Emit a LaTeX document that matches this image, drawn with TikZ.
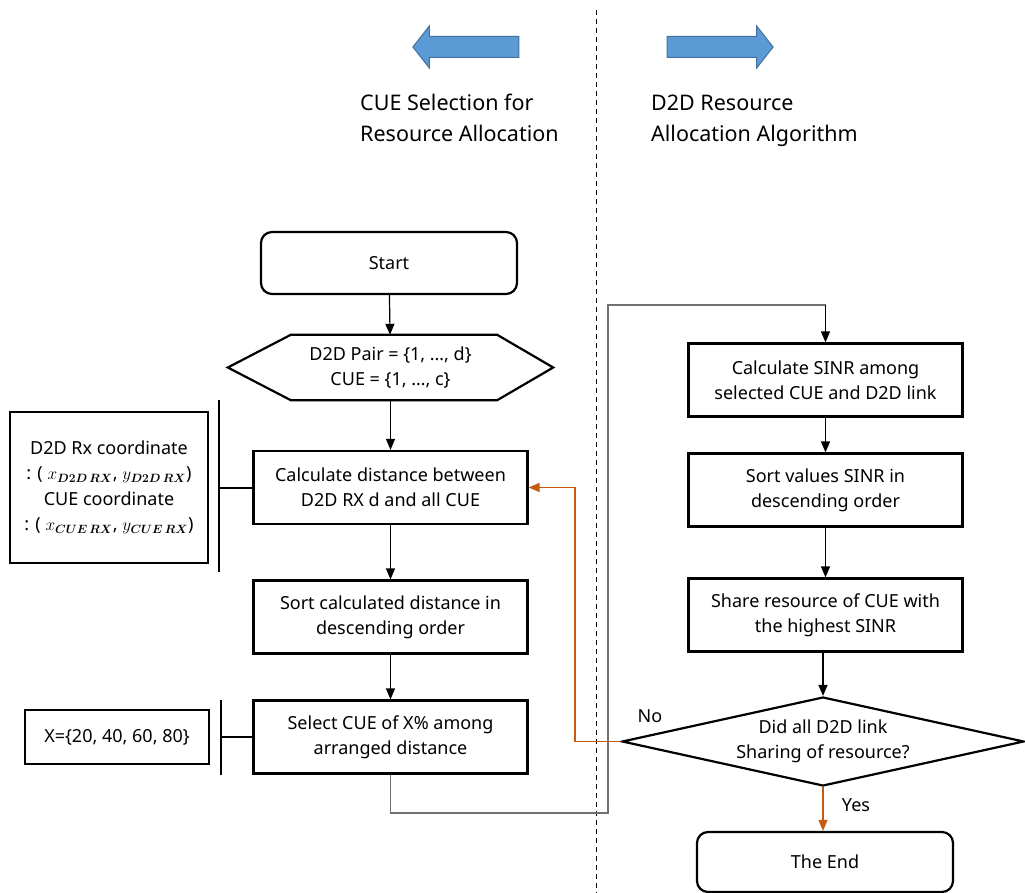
\documentclass[tikz,border=0pt]{standalone}
\usepackage{fontspec}
\setmainfont{Noto Sans}
\usepackage{amsmath}
\usetikzlibrary{arrows.meta,shapes.geometric,shapes.arrows}
\begin{document}
\begin{tikzpicture}[x=1pt,y=-1pt,
        box/.style={draw, line width=2.2pt, minimum width=274pt, minimum height=73pt, align=center, inner sep=2pt, font=\fontsize{18}{25}\selectfont},
        term/.style={draw, line width=2.2pt, rounded corners=11pt, minimum width=256pt, minimum height=62pt, align=center, font=\fontsize{18}{25}\selectfont},
        note/.style={draw, line width=2.2pt, align=center, inner sep=0pt, font=\fontsize{18}{25.5}\selectfont},
        con/.style={line width=1.2pt, -{Triangle[width=9pt,length=11pt]}},
        bigarrow/.style={single arrow, draw=myblueline, fill=myblue, line width=1pt, inner xsep=0pt, inner ysep=10pt, minimum height=106pt, single arrow head extend=10.5pt, single arrow tip angle=104},
        heading/.style={anchor=west, align=left, inner sep=0pt, font=\fontsize{21.5}{31}\selectfont}]
        \definecolor{myblue}{RGB}{91,155,213}
        \definecolor{myblueline}{RGB}{65,113,156}
        \definecolor{myorange}{RGB}{197,90,17}
        \definecolor{mygray}{RGB}{112,112,112}
        \useasboundingbox (0,0) rectangle (1025,893);
        \draw[line width=1pt, dash pattern=on 5pt off 4pt] (596,10) -- (596,893);
        \node[bigarrow, shape border rotate=180] (leftarrow) at (470,47) {};
        \node[bigarrow] (rightarrow) at (716,47) {};
        \node[heading] (lefthead) at (360,120) {\strut CUE Selection for\\\strut Resource Allocation};
        \node[heading] (righthead) at (651,120) {\strut D2D Resource\\\strut Allocation Algorithm};
        \node[term] (start) at (389,263) {Start};
        \node[minimum width=325pt, minimum height=65pt, align=center, inner sep=0pt, font=\fontsize{18}{25}\selectfont] (init) at (390.5,367.5) {D2D Pair = \{1, …, d\}\\CUE = \{1, …, c\}};
        \draw[line width=2.2pt, line join=miter] (init.west) -- ([xshift=63pt]init.north west) -- ([xshift=-56pt]init.north east) -- (init.east) -- ([xshift=-56pt]init.south east) -- ([xshift=63pt]init.south west) -- cycle;
        \node[box] (calcdist) at (390.5,487.5) {Calculate distance between\\D2D RX d and all CUE};
        \node[box] (sortdist) at (390.5,617) {Sort calculated distance in\\descending order};
        \node[box] (select) at (390.5,737) {Select CUE of X\% among\\arranged distance};
        \node[note, minimum width=198pt, minimum height=151pt] (coords) at (109,487.5) {D2D Rx coordinate\\: ( $x_{\boldsymbol{D2D\,RX}}$, $y_{\boldsymbol{D2D\,RX}}$)\\CUE coordinate\\: ( $x_{\boldsymbol{CUE\,RX}}$, $y_{\boldsymbol{CUE\,RX}}$)};
        \node[note, minimum width=184pt, minimum height=54pt] (xset) at (117,737) {X=\{20, 40, 60, 80\}};
        \node[box] (sinr) at (825.5,380) {Calculate SINR among\\selected CUE and D2D link};
        \node[box] (sortsinr) at (825.5,490) {Sort values SINR in\\descending order};
        \node[box] (share) at (825.5,615) {Share resource of CUE with\\the highest SINR};
        \node[diamond, draw, line width=2.2pt, aspect=4.5, inner sep=0pt, minimum width=402pt, minimum height=89pt, align=center, font=\fontsize{18}{25}\selectfont] (decide) at (823,741.5) {Did all D2D link\\Sharing of resource?};
        \node[term, minimum height=60pt] (theend) at (825,862) {The End};
        \node[font=\fontsize{18}{25}\selectfont] (nolabel) at (650,716) {No};
        \node[font=\fontsize{18}{25}\selectfont] (yeslabel) at (856,805) {Yes};
        \coordinate (bartop) at (219,400);
        \coordinate (barbot) at (219,572);
        \coordinate (bar2top) at (221,700);
        \coordinate (bar2bot) at (221,775);
        \coordinate (loopbot) at (608,813);
        \coordinate (looptop) at (608,305);
        \coordinate (nobend) at (575,741.5);
        \draw[line width=2pt] (bartop) -- (barbot);
        \draw[line width=2pt] (calcdist.west) -- (calcdist.west -| bartop);
        \draw[line width=2pt] (bar2top) -- (bar2bot);
        \draw[line width=2pt] (select.west) -- (select.west -| bar2top);
        \draw[con] (start) -- (init);
        \draw[con] (init) -- (calcdist);
        \draw[con] (calcdist) -- (sortdist);
        \draw[con] (sortdist) -- (select);
        \draw[line width=1.3pt, draw=mygray] (select.south) |- (loopbot) -- (looptop) -| (sinr.north);
        \draw[con] (sinr.north |- looptop) -- (sinr.north);
        \draw[con] (sinr) -- (sortsinr);
        \draw[con] (sortsinr) -- (share);
        \draw[con] (share.south -| decide.north) -- (decide.north);
        \draw[con, color=myorange] (decide.west) -- (nobend) |- (calcdist.east);
        \draw[con, color=myorange] (decide.south) -- (theend.north -| decide.south);
    \end{tikzpicture}
\end{document}
